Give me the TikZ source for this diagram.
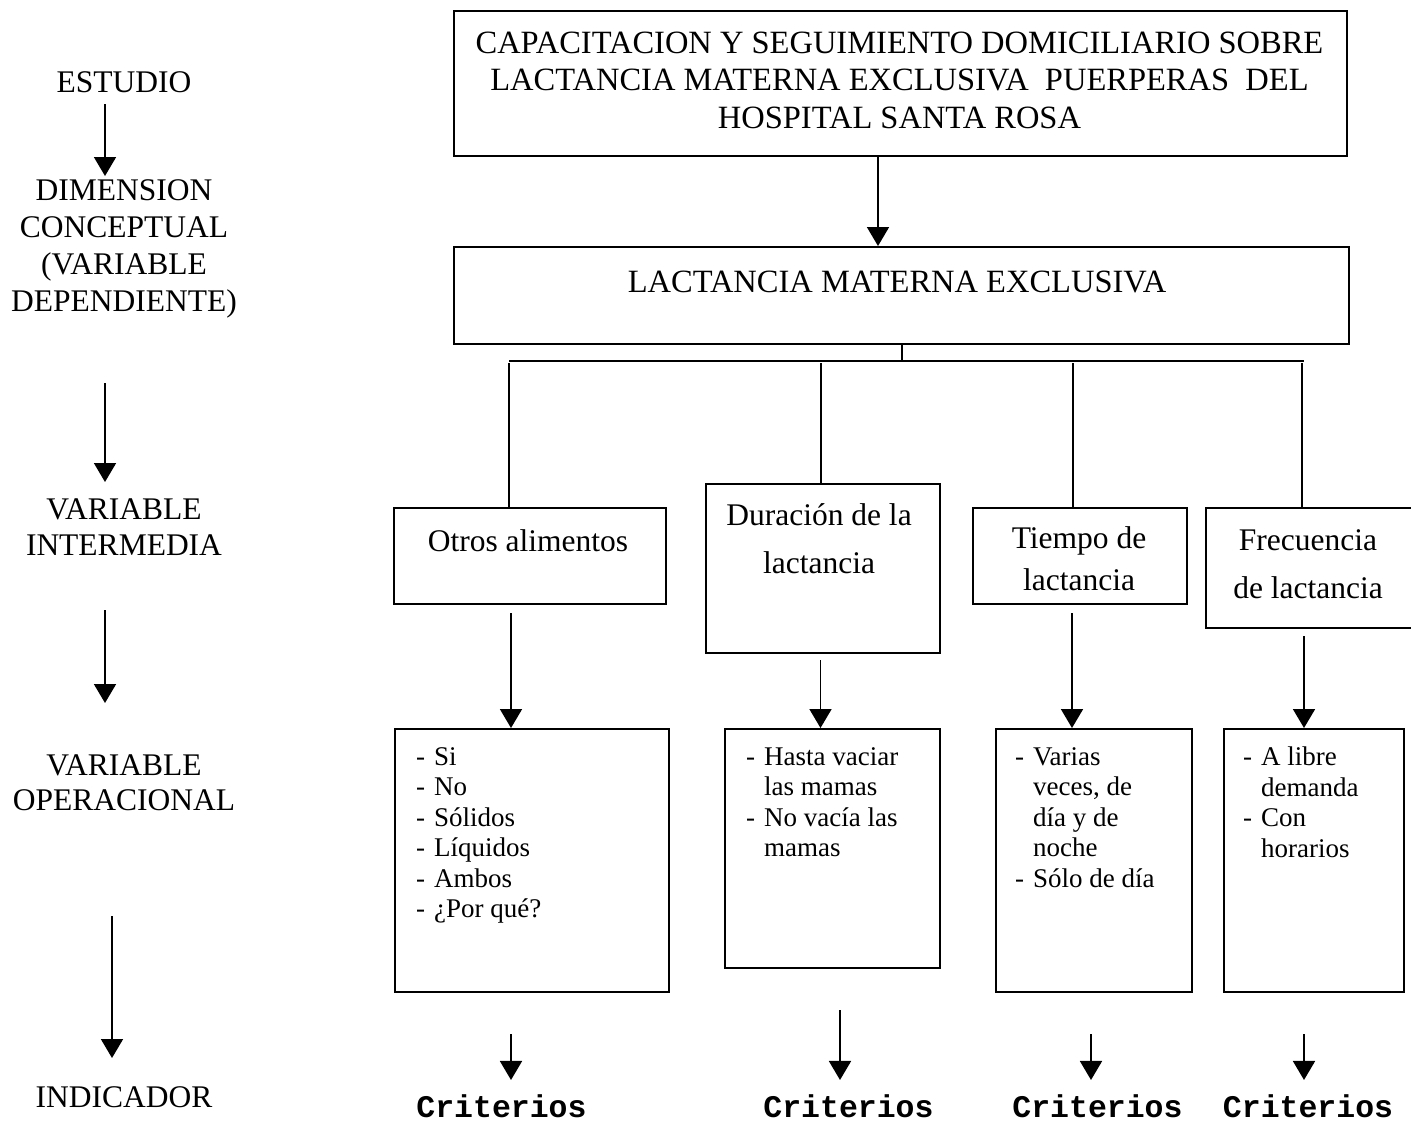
\documentclass[tikz,border=0pt]{standalone}
\usepackage{fontspec}
\setmainfont{Liberation Serif}
\newfontfamily\critfont{Liberation Mono}
\usetikzlibrary{arrows.meta}
\newcommand{\itm}[1]{\makebox[18pt][l]{-}#1}
\newcommand{\cnt}[1]{\hspace*{18pt}#1}
\begin{document}
\begin{tikzpicture}[x=1pt,y=-1pt,
  box/.style={draw, line width=2.2pt, inner sep=0pt, anchor=north west},
  ln/.style={line width=1.8pt},
  barln/.style={line width=2.4pt},
  arr/.style={line width=1.8pt, -{Triangle[width=22pt,length=19pt]}},
  big/.style={font=\fontsize{31.5}{37.5}\selectfont, align=center, inner sep=0pt},
  head/.style={font=\fontsize{32.5}{37.5}\selectfont, align=center, inner sep=0pt},
  lst/.style={font=\fontsize{27}{30.5}\selectfont, align=left, inner sep=0pt, anchor=north west},
  crit/.style={font=\critfont\bfseries\fontsize{31.5}{31.5}\selectfont, inner sep=0pt, anchor=base}]
\clip (0,0) rectangle (1411,1122);
\fill[white] (0,0) rectangle (1411,1122);

% boxes
\node[box, minimum width=893pt, minimum height=145pt] (top) at (453,10) {};
\node[box, minimum width=895pt, minimum height=97pt] (mid) at (453,246) {};
\node[box, minimum width=272pt, minimum height=96pt] (v1) at (393,507) {};
\node[box, minimum width=234pt, minimum height=169pt] (v2) at (705,483) {};
\node[box, minimum width=214pt, minimum height=96pt] (v3) at (972,507) {};
\node[box, minimum width=240pt, minimum height=120pt] (v4) at (1205,507) {};
\node[box, minimum width=274pt, minimum height=263pt] (o1) at (394,728) {};
\node[box, minimum width=215pt, minimum height=239pt] (o2) at (724,728) {};
\node[box, minimum width=196pt, minimum height=263pt] (o3) at (995,728) {};
\node[box, minimum width=180pt, minimum height=263pt] (o4) at (1223,728) {};

% box texts
\node[head] (topt) at (899.5,80) {CAPACITACION Y SEGUIMIENTO DOMICILIARIO SOBRE\\LACTANCIA MATERNA EXCLUSIVA\ \ PUERPERAS\ \ DEL\\HOSPITAL SANTA ROSA};
\node[head] (midt) at (897,282) {LACTANCIA MATERNA EXCLUSIVA};
\node[big] (v1t) at (528,541) {Otros alimentos};
\node[big, font=\fontsize{31.5}{48}\selectfont] (v2t) at (819,539) {Duración de la\\lactancia};
\node[big, font=\fontsize{31.5}{42}\selectfont] (v3t) at (1079,559) {Tiempo de\\lactancia};
\node[big, font=\fontsize{31.5}{48}\selectfont] (v4t) at (1308,564) {Frecuencia\\de lactancia};

\node[lst] (o1t) at (416,747) {\itm{Si}\\\itm{No}\\\itm{Sólidos}\\\itm{Líquidos}\\\itm{Ambos}\\\itm{¿Por qué?}};
\node[lst] (o2t) at (746,747) {\itm{Hasta vaciar}\\\cnt{las mamas}\\\itm{No vacía las}\\\cnt{mamas}};
\node[lst] (o3t) at (1015,747) {\itm{Varias}\\\cnt{veces, de}\\\cnt{día y de}\\\cnt{noche}\\\itm{Sólo de día}};
\node[lst] (o4t) at (1243,747) {\itm{A libre}\\\cnt{demanda}\\\itm{Con}\\\cnt{horarios}};

% left labels
\node[big] (l1) at (124,82) {ESTUDIO};
\node[big, font=\fontsize{31.5}{37}\selectfont] (l2) at (124,249) {DIMENSION\\CONCEPTUAL\\(VARIABLE\\DEPENDIENTE)};
\node[big, font=\fontsize{31.5}{36}\selectfont] (l3) at (124,527) {VARIABLE\\INTERMEDIA};
\node[big, font=\fontsize{31.5}{35}\selectfont] (l4) at (124,783) {VARIABLE\\OPERACIONAL};
\node[big] (l5) at (124,1097) {INDICADOR};

% criterios
\node[crit] (c1) at (501.5,1117) {Criterios};
\node[crit] (c2) at (848.5,1117) {Criterios};
\node[crit] (c3) at (1097.5,1117) {Criterios};
\node[crit] (c4) at (1308,1117) {Criterios};

% left column arrows
\coordinate (a1s) at (105,104); \coordinate (a1e) at (105,176);
\coordinate (a2s) at (105,383); \coordinate (a2e) at (105,482);
\coordinate (a3s) at (105,610); \coordinate (a3e) at (105,703);
\coordinate (a4s) at (112,916); \coordinate (a4e) at (112,1058);
\draw[arr] (a1s) -- (a1e);
\draw[arr] (a2s) -- (a2e);
\draw[arr] (a3s) -- (a3e);
\draw[arr] (a4s) -- (a4e);

% top to mid
\coordinate (x1) at (878,0);
\draw[arr] (top.south -| x1) -- (mid.north -| x1);

% branching
\coordinate (bl) at (509,361);
\coordinate (br) at (1304,361);
\draw[ln] (mid.south) -- (mid.south |- bl);
\draw[barln] (bl) -- (br);
\coordinate (t1) at (509,363);
\coordinate (t2) at (821,363);
\coordinate (t3) at (1073,363);
\coordinate (t4) at (1302,363);
\draw[ln] (t1) -- (v1.north -| t1);
\draw[ln] (t2) -- (v2.north -| t2);
\draw[ln] (t3) -- (v3.north -| t3);
\draw[ln] (t4) -- (v4.north -| t4);

% mid row to lower row
\coordinate (d1) at (511,0);
\coordinate (d2) at (820.5,0);
\coordinate (d3) at (1072,0);
\coordinate (d4) at (1304,0);
\draw[arr, shorten <=8pt] (v1.south -| d1) -- (o1.north -| d1);
\draw[arr, shorten <=6pt] (v2.south -| d2) -- (o2.north -| d2);
\draw[arr, shorten <=8pt] (v3.south -| d3) -- (o3.north -| d3);
\draw[arr, shorten <=7pt] (v4.south -| d4) -- (o4.north -| d4);

% to criterios
\coordinate (k1) at (511,1034);
\coordinate (k2) at (840,1010);
\coordinate (k3) at (1091,1034);
\coordinate (k4) at (1304,1034);
\draw[arr, shorten >=14pt] (k1) -- (c1.north -| k1);
\draw[arr, shorten >=14pt] (k2) -- (c2.north -| k2);
\draw[arr, shorten >=14pt] (k3) -- (c3.north -| k3);
\draw[arr, shorten >=14pt] (k4) -- (c4.north -| k4);
\end{tikzpicture}
\end{document}
